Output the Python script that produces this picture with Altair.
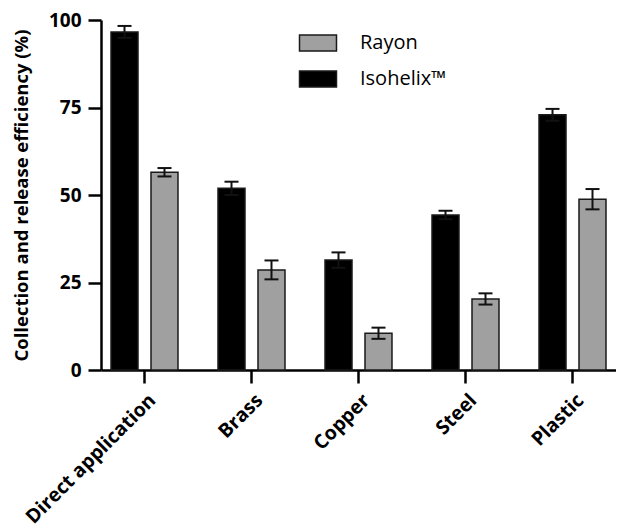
import altair as alt
import pandas as pd

categories = ["Direct application", "Brass", "Copper", "Steel", "Plastic"]
legend_order = ["Rayon", "Isohelix™"]
bar_order = ["Isohelix™", "Rayon"]
isohelix_mean = [96.6, 51.9, 31.4, 44.3, 72.9]
isohelix_sd = [1.7, 1.9, 2.2, 1.2, 1.7]
rayon_mean = [56.5, 28.6, 10.5, 20.3, 48.8]
rayon_sd = [1.2, 2.7, 1.6, 1.6, 2.9]
y_ticks = [0, 25, 50, 75, 100]

rows = []
for c, m, s in zip(categories, isohelix_mean, isohelix_sd):
    rows.append({"cat": c, "series": "Isohelix™", "mean": m, "sd": s})
for c, m, s in zip(categories, rayon_mean, rayon_sd):
    rows.append({"cat": c, "series": "Rayon", "mean": m, "sd": s})
df = pd.DataFrame(rows)

FONT = "Open Sans"

x_enc = alt.X(
    "cat:N", sort=categories, title=None,
    scale=alt.Scale(paddingInner=0.374, paddingOuter=0.0935),
    axis=alt.Axis(labelAngle=-45, labelAlign="right", labelBaseline="middle",
                  labelPadding=14, labelOffset=8, labelFontSize=19.5),
)
xo_enc = alt.XOffset("series:N", sort=bar_order,
                     scale=alt.Scale(domain=bar_order, paddingInner=0.325, paddingOuter=0))
y_enc = alt.Y(
    "mean:Q", title="Collection and release efficiency (%)",
    scale=alt.Scale(domain=[0, 100], nice=False),
    axis=alt.Axis(values=y_ticks, titlePadding=17, labelFontSize=19, labelPadding=7),
)
color_enc = alt.Color(
    "series:N",
    scale=alt.Scale(domain=legend_order, range=["#a0a0a0", "#000000"]),
    legend=alt.Legend(
        title=None, orient="none", legendX=207, legendY=13, padding=0,
        symbolType="M-2,-0.86L2,-0.86L2,0.86L-2,0.86Z", symbolSize=342,
        symbolStrokeColor="#1a1a1a", symbolStrokeWidth=1.5, symbolOpacity=1,
        labelFont=FONT, labelFontSize=20, labelColor="black", labelOffset=32,
        rowPadding=14,
    ),
)

base = alt.Chart(df)

bars = base.mark_bar(stroke="#1a1a1a", strokeWidth=1.5, opacity=1).encode(
    x=x_enc, xOffset=xo_enc, y=y_enc, color=color_enc
)

err = base.transform_calculate(
    lo="datum.mean - datum.sd", hi="datum.mean + datum.sd"
)
rules = err.mark_rule(color="#111111", strokeWidth=2).encode(
    x=alt.X("cat:N", sort=categories), xOffset=alt.XOffset("series:N", sort=bar_order),
    y=alt.Y("lo:Q"), y2="hi:Q"
)
cap_hi = err.mark_tick(color="#111111", thickness=2, size=14, opacity=1).encode(
    x=alt.X("cat:N", sort=categories), xOffset=alt.XOffset("series:N", sort=bar_order),
    y=alt.Y("hi:Q")
)
cap_lo = err.mark_tick(color="#111111", thickness=2, size=14, opacity=1).encode(
    x=alt.X("cat:N", sort=categories), xOffset=alt.XOffset("series:N", sort=bar_order),
    y=alt.Y("lo:Q")
)

chart = alt.layer(bars, rules, cap_hi, cap_lo).properties(
    width=515, height=350,
    autosize=alt.AutoSizeParams(type="none"),
    padding={"left": 93, "top": 12, "right": 0, "bottom": 160},
    background="white",
).configure_view(stroke=None).configure_axis(
    labelFont=FONT, labelFontWeight="bold", labelColor="black",
    titleFont=FONT, titleFontSize=18.5, titleFontWeight="bold", titleColor="black",
    domainColor="black", domainWidth=2.5, tickColor="black", tickWidth=2.5,
    tickSize=13, grid=False,
)

chart.save("out.html", embed_options={"renderer": "svg", "actions": False})
